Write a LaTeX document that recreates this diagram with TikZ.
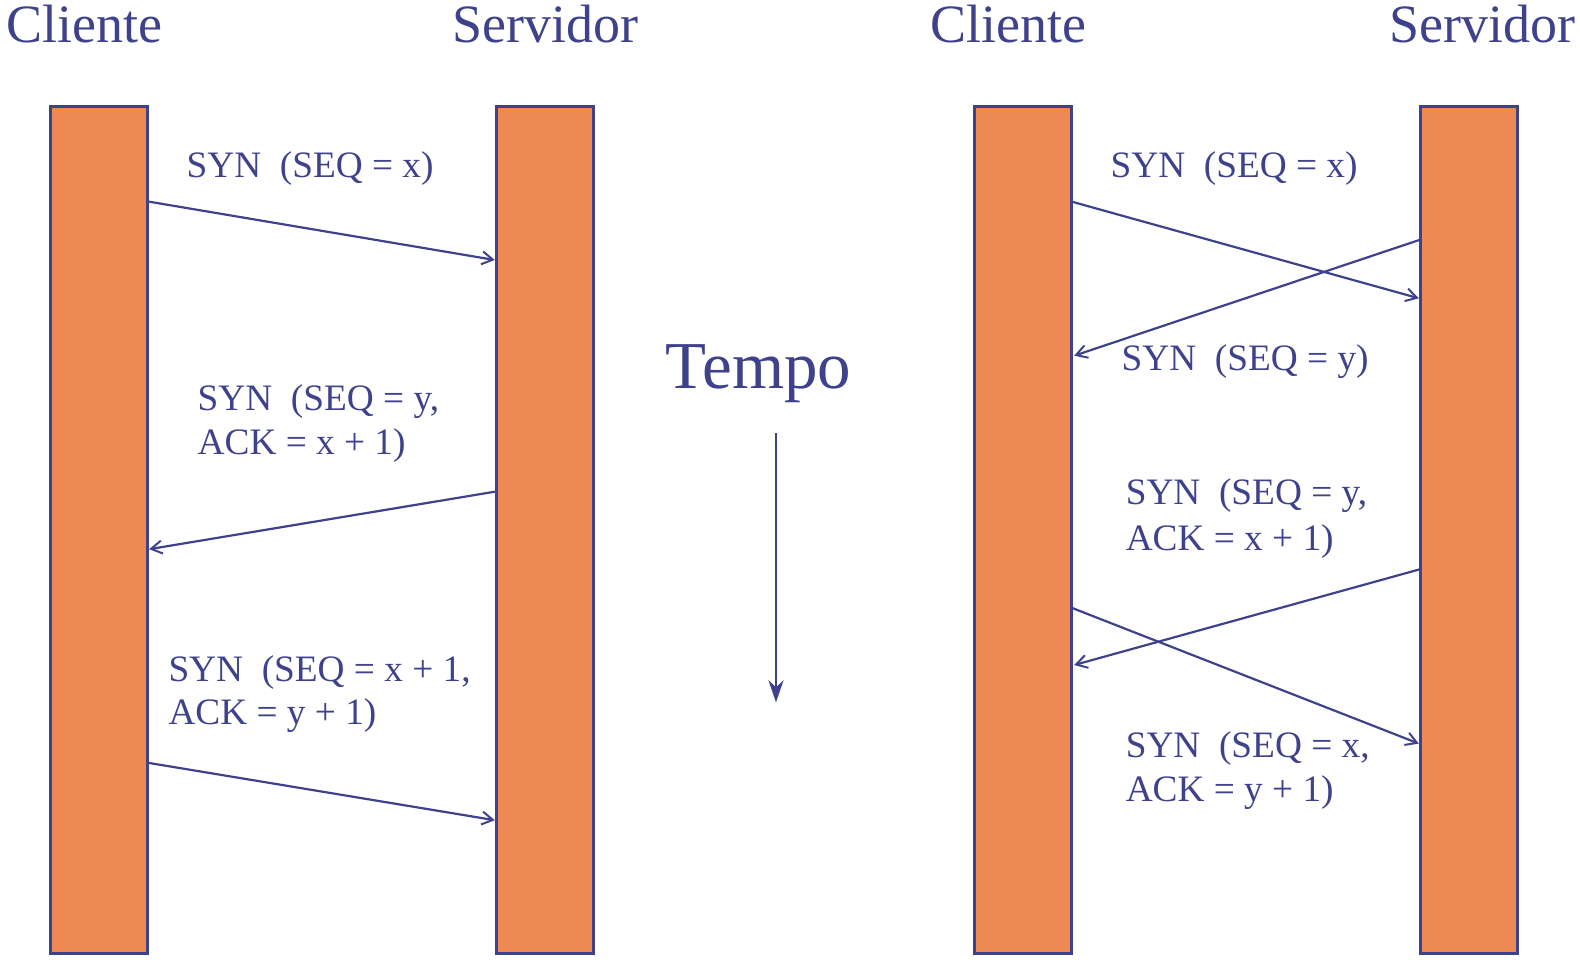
\documentclass[tikz,border=0pt]{standalone}
\usepackage{fontspec}
\setmainfont{Liberation Serif}
\usetikzlibrary{arrows.meta}
\definecolor{ink}{RGB}{62,66,140}
\definecolor{bar}{RGB}{238,136,85}
\begin{document}
\begin{tikzpicture}[x=1pt,y=-1pt,
  lifeline/.style={draw=ink,line width=3pt,fill=bar,minimum width=97pt,minimum height=847pt,inner sep=0pt},
  title/.style={text=ink,font=\fontsize{54}{60}\selectfont,anchor=base,inner sep=0pt},
  msg/.style={text=ink,font=\fontsize{37.3}{44}\selectfont,anchor=base west,inner sep=0pt,align=left},
  seg/.style={draw=ink,line width=2.2pt,-{Straight Barb[length=11pt,width=13pt,line width=2pt]}}]
\useasboundingbox (0,0) rectangle (1580,959);

% titles
\node[title] (tcl) at (84.6,42.3) {Cliente};
\node[title] (tsl) at (545,42.3) {Servidor};
\node[title] (tcr) at (1008.7,42.3) {Cliente};
\node[title] (tsr) at (1482,42.3) {Servidor};

% lifelines
\node[lifeline] (cl) at (99.25,529.5) {};
\node[lifeline] (sl) at (544.65,529.5) {};
\node[lifeline] (cr) at (1022.8,529.5) {};
\node[lifeline] (sr) at (1469.15,529.5) {};

% left exchange: three-way handshake
\coordinate (a1s) at (148.1,201.5);  \coordinate (a1e) at (494.8,260);
\coordinate (a2s) at (494.8,491.7);  \coordinate (a2e) at (149.1,549.2);
\coordinate (a3s) at (148.1,762.8);  \coordinate (a3e) at (494.8,820.2);
\draw[seg] (a1s) -- (a1e);
\draw[seg] (a2s) -- (a2e);
\draw[seg] (a3s) -- (a3e);

\node[msg] (m1) at (186.4,177.3) {SYN\ \ (SEQ = x)};
\node[msg] (m2a) at (197.5,410) {SYN\ \ (SEQ = y,};
\node[msg] (m2b) at (197.5,454.5) {ACK = x + 1)};
\node[msg] (m3a) at (168.3,681) {SYN\ \ (SEQ = x + 1,};
\node[msg] (m3b) at (168.3,724.5) {ACK = y + 1)};

% time axis
\node[text=ink,font=\fontsize{67}{72}\selectfont,anchor=base,inner sep=0pt] (tempo) at (758.5,388) {Tempo};
\coordinate (ts) at (776,433.3);
\coordinate (te) at (776,702.3);
\draw[draw=ink,line width=2.6pt,-{Stealth[length=22pt,width=15pt,inset=7pt]}] (ts) -- (te);

% right exchange: simultaneous open
\coordinate (b1s) at (1071.2,201.5); \coordinate (b1e) at (1418.8,298.3);
\coordinate (b2s) at (1419.8,239.8); \coordinate (b2e) at (1074.2,355.7);
\coordinate (b3s) at (1419.8,569.3); \coordinate (b3e) at (1074.2,665);
\coordinate (b4s) at (1071.2,607.6); \coordinate (b4e) at (1418.8,743.6);
\draw[seg] (b1s) -- (b1e);
\draw[seg] (b2s) -- (b2e);
\draw[seg] (b3s) -- (b3e);
\draw[seg] (b4s) -- (b4e);

\node[msg] (n1) at (1110.4,177.3) {SYN\ \ (SEQ = x)};
\node[msg] (n2) at (1121.5,370.8) {SYN\ \ (SEQ = y)};
\node[msg] (n3a) at (1125.6,504.8) {SYN\ \ (SEQ = y,};
\node[msg] (n3b) at (1125.6,550) {ACK = x + 1)};
\node[msg] (n4a) at (1125.6,757.8) {SYN\ \ (SEQ = x,};
\node[msg] (n4b) at (1125.6,801) {ACK = y + 1)};
\end{tikzpicture}
\end{document}
